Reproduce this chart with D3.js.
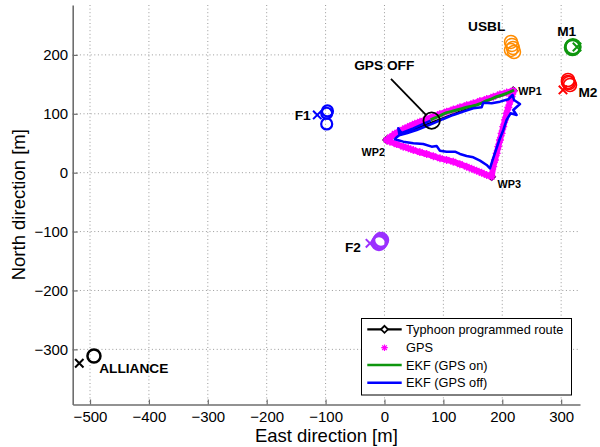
<!DOCTYPE html>
<html>
<head>
<meta charset="utf-8">
<script src="https://cdn.jsdelivr.net/npm/d3@7/dist/d3.min.js"></script>
<style>
  body { margin: 0; background: #fff; }
  svg { display: block; font-family: "Liberation Sans", Arial, Helvetica, sans-serif; }
</style>
</head>
<body>
<svg id="chart" width="600" height="447"></svg>
<script>
// ---- data (metres, East / North) ----
const xTickValues = [-500, -400, -300, -200, -100, 0, 100, 200, 300];
const yTickValues = [-300, -200, -100, 0, 100, 200];

const waypointNames = ["WP1", "WP2", "WP3"];
const routeEast  = [218.7, 3.7, 182.0, 218.7];
const routeNorth = [139.2, 55.5, -6.8, 139.2];

// GPS fixes, WP1 -> WP2 -> WP3 -> WP1
const gpsTrack = [
  [218.7,139.2],[207.4,136.1],[196.1,133.1],[184.8,129.0],[173.5,125.1],[162.0,121.5],
  [150.8,117.8],[139.5,114.5],[128.2,111.0],[117.0,107.4],[105.6,103.6],[94.0,99.5],
  [82.9,95.1],[71.5,91.0],[60.3,86.6],[51.5,83.0],[43.3,79.3],[35.0,75.5],[26.3,71.3],
  [17.5,66.0],[9.3,60.1],[3.7,55.5],
  [9.3,52.6],[20.5,48.5],[31.9,44.1],[40.5,41.5],[48.9,38.5],[60.0,35.0],[71.6,31.7],
  [83.0,28.0],[94.2,24.4],[105.5,21.7],[116.8,18.7],[128.0,14.5],[139.6,10.2],[148.0,6.8],
  [156.5,3.4],[165.0,-0.3],[173.5,-3.9],[182.0,-6.8],
  [184.7,10.2],[187.6,21.5],[190.5,32.9],[193.3,44.2],[196.1,55.5],[198.9,66.8],
  [201.7,78.1],[204.6,89.5],[207.5,100.9],[210.3,110.7],[213.1,120.5],[216.0,129.0],[218.7,137.5]
];

// EKF estimate while GPS is available
const ekfGpsOn = [
  [219.9,140.4],[213.5,137.2],[207.5,134.8],[199.0,131.5],[190.5,129.0],[182.0,125.2],
  [173.5,122.2],[165.0,118.0],[156.5,114.9],[148.0,112.8],[139.6,111.0],[131.0,108.5],
  [122.6,106.5],[114.0,104.0],[105.6,101.9],[98.0,98.5],[91.3,95.1],[84.5,92.5],[78.4,89.5]
];

// EKF estimate after GPS is switched off
const ekfGpsOff = [
  [78.4,88.3],[65.9,82.7],[49.0,75.3],[34.8,69.7],[25.2,65.7],[23.5,75.3],[29.2,66.8],
  [21.8,61.2],[17.8,56.7],[32.0,52.7],[49.0,49.9],[65.9,48.7],[80.1,44.2],[88.6,45.3],
  [94.2,37.4],[105.6,35.7],[119.7,35.7],[128.2,31.8],[139.5,28.4],[150.8,26.1],[162.2,20.4],
  [173.5,13.1],[179.1,7.4],[183.7,21.6],[189.3,38.5],[195.0,55.5],[201.8,72.5],[207.4,89.5],
  [214.2,100.8],[224.4,98.0],[218.7,106.5],[230.1,116.6],[219.9,123.4],[217.6,131.9],
  [210.2,124.6],[196.1,120.6],[182.0,117.8],[167.8,118.9],[165.0,111.0],[150.8,109.3],
  [133.8,103.6],[116.9,98.0],[99.9,91.2],[85.7,85.0],[71.6,79.3],[54.6,72.5],[37.6,66.8],[26.3,64.0]
];

const landmarkNames = ["USBL", "M1", "M2", "F1", "F2", "ALLIANCE"];
const landmarkEstimates = [
  [[214.8,221.9],[216.5,216.9],[218.2,211.8],[214.8,208.4],[219.9,204.9]],
  [[319.2,212.6],[320.0,213.8]],
  [[311.6,157.4],[313.3,152.3],[315.0,148.9],[311.6,154.0]],
  [[-98.1,100.9],[-96.8,104.8],[-98.1,82.7]],
  [[-7.6,-117.2],[-5.9,-114.3],[-9.3,-119.4]],
  [[-493.3,-311.2]]
];
const landmarkTruth = [null, [326.9,213.4], [303.1,140.5], [-114.1,98.0], [-24.6,-119.9], [-518.2,-323.6]];

const gpsOffPoint = [80.1, 88.3];
const gpsOffLabel = "GPS OFF";

const legendLabels = ["Typhoon programmed route", "GPS", "EKF (GPS on)", "EKF (GPS off)"];

// ---- styles ----
const C = {
  route: "#000000", gps: "#ff00ff", ekfOn: "#0f960f", ekfOff: "#0000ff",
  axis: "#6e6e6e", grid: "#9a9a9a"
};
const landmarkStyle = {
  USBL:     { color: "#ff8c00", r: 6.5, w: 1.5, lx: -24.3, ly: -11.1, ref: "est" },
  M1:       { color: "#0f960f", r: 7.5, w: 2.5, lx: -5.8,  ly: -11.5, ref: "est" },
  M2:       { color: "#ff0000", r: 6.5, w: 1.6, lx: 20,    ly: 16.6,  ref: "est" },
  F1:       { color: "#0000ff", r: 5.5, w: 2.2, lx: -14.6, ly: 5,     ref: "truth" },
  F2:       { color: "#9b30ff", r: 7,   w: 2.5, lx: -17,   ly: 8.3,   ref: "truth" },
  ALLIANCE: { color: "#000000", r: 6.5, w: 2.5, lx: 39.8,  ly: 17.5,  ref: "est" }
};
const wpLabelOffset = [[16.7, 3.9], [-13.4, 15.6], [17.6, 11.2]];

// ---- layout and scales ----
const plot = { left: 72.7, right: 580, top: 5, bottom: 404.5 };
const x = d3.scaleLinear().domain([-529.4, 332]).range([plot.left, plot.right]);
const y = d3.scaleLinear().domain([-393.6, 284.7]).range([plot.bottom, plot.top]);

const svg = d3.select("#chart");

// grid
const grid = svg.append("g").attr("stroke", C.grid).attr("stroke-width", 1).attr("stroke-dasharray", "1,2.6");
grid.selectAll("line.gx").data(xTickValues).join("line").attr("class", "gx")
  .attr("x1", d => x(d)).attr("x2", d => x(d)).attr("y1", plot.top).attr("y2", plot.bottom);
grid.selectAll("line.gy").data(yTickValues).join("line").attr("class", "gy")
  .attr("y1", d => y(d)).attr("y2", d => y(d)).attr("x1", plot.left).attr("x2", plot.right);

// axes
function styleAxis(g) {
  g.select(".domain").attr("stroke", C.axis).attr("stroke-width", 1.6);
  g.selectAll(".tick line").attr("stroke", C.axis).attr("stroke-width", 1.2);
  g.selectAll(".tick text").attr("fill", "#000").attr("font-size", 15)
    .attr("font-family", "'Liberation Sans', Arial, sans-serif");
}
svg.append("g").attr("transform", `translate(0,${plot.bottom})`)
  .call(d3.axisBottom(x).tickValues(xTickValues).tickSizeInner(-5).tickSizeOuter(0).tickPadding(7))
  .call(styleAxis);
svg.append("g").attr("transform", `translate(${plot.left},0)`)
  .call(d3.axisLeft(y).tickValues(yTickValues).tickSizeInner(-5).tickSizeOuter(0).tickPadding(4.5))
  .call(styleAxis);

svg.append("text").attr("x", (plot.left + plot.right) / 2).attr("y", 442)
  .attr("text-anchor", "middle").attr("font-size", 18.5).text("East direction [m]");
svg.append("text").attr("transform", `translate(24.5,${(plot.top + plot.bottom) / 2}) rotate(-90)`)
  .attr("text-anchor", "middle").attr("font-size", 18.5).text("North direction [m]");

// helpers
const line = d3.line().x(d => x(d[0])).y(d => y(d[1]));
const asterisk = r => {
  const d = r * 0.7071;
  return `M${-r},0L${r},0M0,${-r}L0,${r}M${-d},${-d}L${d},${d}M${-d},${d}L${d},${-d}`;
};
const cross = s => `M${-s},${-s}L${s},${s}M${-s},${s}L${s},${-s}`;
const diamond = s => `M0,${-s}L${s},0L0,${s}L${-s},0Z`;

// programmed route
const route = routeEast.map((e, i) => [e, routeNorth[i]]);
svg.append("path").datum(route).attr("d", line).attr("fill", "none")
  .attr("stroke", C.route).attr("stroke-width", 2);
svg.append("g").selectAll("path").data(route.slice(0, 3)).join("path")
  .attr("transform", d => `translate(${x(d[0])},${y(d[1])})`)
  .attr("d", diamond(3.5)).attr("fill", "#fff").attr("stroke", C.route).attr("stroke-width", 1.6);

// GPS fixes
svg.append("path").datum(gpsTrack).attr("d", line).attr("fill", "none")
  .attr("stroke", C.gps).attr("stroke-width", 6).attr("stroke-linejoin", "round").attr("stroke-linecap", "round");
svg.append("g").selectAll("path").data(gpsTrack).join("path")
  .attr("transform", d => `translate(${x(d[0])},${y(d[1])})`)
  .attr("d", asterisk(4)).attr("fill", "none").attr("stroke", C.gps).attr("stroke-width", 1.3);

// EKF tracks
svg.append("path").datum(ekfGpsOn).attr("d", line).attr("fill", "none")
  .attr("stroke", C.ekfOn).attr("stroke-width", 3).attr("stroke-linejoin", "round");
svg.append("path").datum(ekfGpsOff).attr("d", line).attr("fill", "none")
  .attr("stroke", C.ekfOff).attr("stroke-width", 2.5).attr("stroke-linejoin", "round");

// waypoint labels
svg.append("g").selectAll("text").data(waypointNames).join("text")
  .attr("x", (d, i) => x(routeEast[i]) + wpLabelOffset[i][0])
  .attr("y", (d, i) => y(routeNorth[i]) + wpLabelOffset[i][1])
  .attr("text-anchor", "middle").attr("font-size", 10.8).attr("font-weight", "bold").text(d => d);

// landmarks: estimate circles, true position crosses, names
landmarkNames.forEach((name, i) => {
  const s = landmarkStyle[name];
  const g = svg.append("g");
  g.selectAll("circle").data(landmarkEstimates[i]).join("circle")
    .attr("cx", d => x(d[0])).attr("cy", d => y(d[1])).attr("r", s.r)
    .attr("fill", "none").attr("stroke", s.color).attr("stroke-width", s.w);
  const t = landmarkTruth[i];
  if (t) {
    g.append("path").attr("transform", `translate(${x(t[0])},${y(t[1])})`)
      .attr("d", cross(4.2)).attr("stroke", s.color).attr("stroke-width", 2).attr("fill", "none");
  }
  const ref = s.ref === "truth" && t ? t : landmarkEstimates[i][0];
  g.append("text").attr("x", x(ref[0]) + s.lx).attr("y", y(ref[1]) + s.ly)
    .attr("text-anchor", "middle").attr("font-size", 13.7).attr("font-weight", "bold").text(name);
});

// GPS switch-off marker with pointer
{
  const cx = x(gpsOffPoint[0]), cy = y(gpsOffPoint[1]), r = 8.2;
  const sx = cx - 40.7, sy = cy - 41.7;
  const len = Math.hypot(cx - sx, cy - sy);
  svg.append("circle").attr("cx", cx).attr("cy", cy).attr("r", r)
    .attr("fill", "none").attr("stroke", "#000").attr("stroke-width", 1.8);
  svg.append("line").attr("x1", sx).attr("y1", sy)
    .attr("x2", cx - (cx - sx) / len * r).attr("y2", cy - (cy - sy) / len * r)
    .attr("stroke", "#000").attr("stroke-width", 1.8);
  svg.append("text").attr("x", cx - 47.4).attr("y", cy - 50.7)
    .attr("text-anchor", "middle").attr("font-size", 13.7).attr("font-weight", "bold").text(gpsOffLabel);
}

// legend
{
  const lg = svg.append("g");
  lg.append("rect").attr("x", 361.5).attr("y", 318.5).attr("width", 210).attr("height", 76.5)
    .attr("fill", "#fff").attr("stroke", "#000").attr("stroke-width", 1);
  const rows = [329.3, 347.7, 365, 382.7];
  const x0 = 367.3, x1 = 401.7, xm = (x0 + x1) / 2;
  lg.append("line").attr("x1", x0).attr("x2", x1).attr("y1", rows[0]).attr("y2", rows[0])
    .attr("stroke", C.route).attr("stroke-width", 2.2);
  lg.append("path").attr("transform", `translate(${xm},${rows[0]})`).attr("d", diamond(3.5))
    .attr("fill", "#fff").attr("stroke", C.route).attr("stroke-width", 1.8);
  lg.append("path").attr("transform", `translate(${xm},${rows[1]})`).attr("d", asterisk(3.3))
    .attr("fill", "none").attr("stroke", C.gps).attr("stroke-width", 1.2);
  lg.append("line").attr("x1", x0).attr("x2", x1).attr("y1", rows[2]).attr("y2", rows[2])
    .attr("stroke", C.ekfOn).attr("stroke-width", 2.5);
  lg.append("line").attr("x1", x0).attr("x2", x1).attr("y1", rows[3]).attr("y2", rows[3])
    .attr("stroke", C.ekfOff).attr("stroke-width", 2.5);
  lg.selectAll("text").data(legendLabels).join("text")
    .attr("x", 406).attr("y", (d, i) => rows[i] + 4.5)
    .attr("font-size", 12.75).text(d => d);
}
</script>
</body>
</html>
